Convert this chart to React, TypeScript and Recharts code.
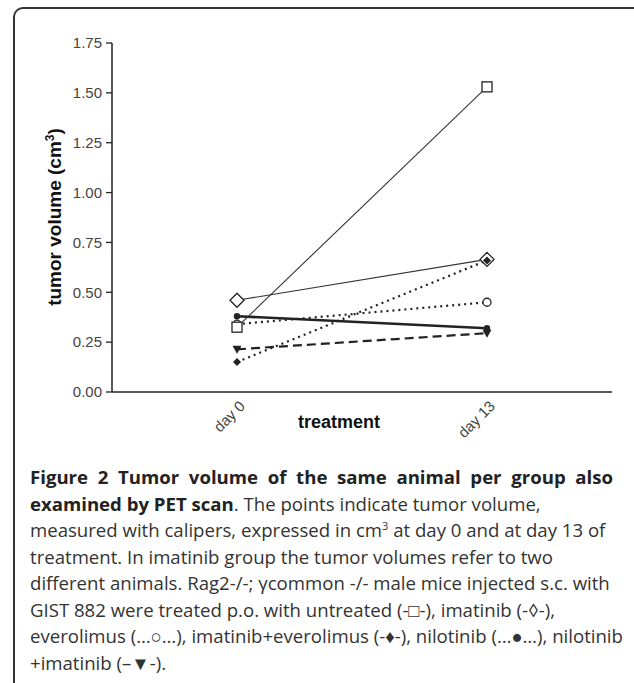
import React from "react";
import { LineChart, Line, XAxis, YAxis } from "recharts";

const days = ["day 0", "day 13"];
const untreated = [0.325, 1.53];
const imatinib = [0.46, 0.665];
const everolimus = [0.34, 0.45];
const imaEvero = [0.15, 0.66];
const nilotinib = [0.38, 0.32];
const niloIma = [0.214, 0.295];
const yTicks = [0, 0.25, 0.5, 0.75, 1, 1.25, 1.5, 1.75];

const data = days.map((day, i) => ({
  day,
  untreated: untreated[i],
  imatinib: imatinib[i],
  everolimus: everolimus[i],
  imaEvero: imaEvero[i],
  nilotinib: nilotinib[i],
  niloIma: niloIma[i],
}));

const INK = "#222";

type Shape = "square" | "diamond" | "circle" | "fdiamond" | "dot" | "tri";

function marker(shape: Shape) {
  return (p: any) => {
    const { cx, cy, key } = p;
    if (cx == null || cy == null) return <g key={key} />;
    if (shape === "square")
      return <rect key={key} x={cx - 5} y={cy - 5} width={10} height={10} fill="#fff" stroke={INK} strokeWidth={1.3} />;
    if (shape === "diamond")
      return (
        <polygon key={key} points={`${cx},${cy - 7} ${cx + 7},${cy} ${cx},${cy + 7} ${cx - 7},${cy}`}
          fill="#fff" stroke={INK} strokeWidth={1.3} />
      );
    if (shape === "circle")
      return <circle key={key} cx={cx} cy={cy} r={4} fill="#fff" stroke={INK} strokeWidth={1.3} />;
    if (shape === "fdiamond")
      return (
        <polygon key={key} points={`${cx},${cy - 4} ${cx + 4},${cy} ${cx},${cy + 4} ${cx - 4},${cy}`} fill={INK} />
      );
    if (shape === "dot") return <circle key={key} cx={cx} cy={cy} r={3.2} fill={INK} />;
    return <polygon key={key} points={`${cx - 4.5},${cy - 3.5} ${cx + 4.5},${cy - 3.5} ${cx},${cy + 4.5}`} fill={INK} />;
  };
}

function DayTick(props: any) {
  const { x, payload } = props;
  const ax = x + 9;
  const ay = 407;
  return (
    <text x={ax} y={ay} transform={`rotate(-45 ${ax} ${ay})`} textAnchor="end"
      fontFamily="Liberation Sans, Arial, sans-serif" fontSize={15} fill="#444">
      {payload.value}
    </text>
  );
}

export default function App() {
  return (
    <div style={{ position: "absolute", left: 0, top: 0, width: 634, height: 683, background: "#fff", overflow: "hidden" }}>
      <div
        style={{
          position: "absolute", left: 13, top: 7, width: 640, height: 700,
          borderLeft: "2px solid #333", borderTop: "2px solid #333",
          borderTopLeftRadius: 10, borderBottomLeftRadius: 10,
          boxSizing: "border-box",
        }}
      />
      <div style={{ position: "absolute", left: 0, top: 0 }}>
        <LineChart width={634} height={450} data={data} margin={{ top: 43, right: 22, left: 0, bottom: 18 }}>
          <XAxis dataKey="day" height={40} padding={{ left: 125, right: 125 }} tickLine={false}
            axisLine={{ stroke: INK, strokeWidth: 1.5 }} tick={<DayTick />} interval={0} />
          <YAxis width={112} domain={[0, 1.75]} ticks={yTicks} tickSize={6} tickMargin={4}
            tickFormatter={(v: number) => v.toFixed(2)}
            axisLine={{ stroke: INK, strokeWidth: 1.5 }} tickLine={{ stroke: INK, strokeWidth: 1.3 }}
            tick={{ fontSize: 15, fill: "#444", fontFamily: "Liberation Sans, Arial, sans-serif" }} />
          <Line dataKey="everolimus" stroke={INK} strokeWidth={2.2} strokeDasharray="2 4" dot={marker("circle")}
            isAnimationActive={false} />
          <Line dataKey="nilotinib" stroke={INK} strokeWidth={2.6} dot={marker("dot")} isAnimationActive={false} />
          <Line dataKey="niloIma" stroke={INK} strokeWidth={2.2} strokeDasharray="9 5" dot={marker("tri")}
            isAnimationActive={false} />
          <Line dataKey="imatinib" stroke="#333" strokeWidth={1.1} dot={marker("diamond")} isAnimationActive={false} />
          <Line dataKey="imaEvero" stroke={INK} strokeWidth={2.2} strokeDasharray="2 4" dot={marker("fdiamond")}
            isAnimationActive={false} />
          <Line dataKey="untreated" stroke="#333" strokeWidth={1.1} dot={marker("square")} isAnimationActive={false} />
          <text x={61} y={217} transform="rotate(-90 61 217)" textAnchor="middle"
            fontFamily="Liberation Sans, Arial, sans-serif" fontWeight="bold" fontSize={19} fill="#111">
            tumor volume (cm<tspan fontSize={12} dy={-7}>3</tspan><tspan dy={7}>)</tspan>
          </text>
          <text x={339} y={428} textAnchor="middle" fontFamily="Liberation Sans, Arial, sans-serif"
            fontWeight="bold" fontSize={18} fill="#111">
            treatment
          </text>
        </LineChart>
      </div>
      <div
        style={{
          position: "absolute", left: 30, top: 464, width: 583,
          fontFamily: "'Open Sans', sans-serif", fontSize: 18.6, lineHeight: "26.5px", color: "#333",
          whiteSpace: "nowrap",
        }}
      >
        <div style={{ fontWeight: 700, color: "#222", textAlign: "justify", textAlignLast: "justify" }}>
          Figure 2 Tumor volume of the same animal per group also
        </div>
        <div>
          <b style={{ color: "#222" }}>examined by PET scan</b>. The points indicate tumor volume,
        </div>
        <div>
          measured with calipers, expressed in cm<sup style={{ fontSize: 11, lineHeight: 0 }}>3</sup> at day 0 and at day 13 of
        </div>
        <div>treatment. In imatinib group the tumor volumes refer to two</div>
        <div>different animals. Rag2-/-; γcommon -/- male mice injected s.c. with</div>
        <div>GIST 882 were treated p.o. with untreated (-□-), imatinib (-◊-),</div>
        <div>everolimus (…○…), imatinib+everolimus (-♦-), nilotinib (…●…), nilotinib</div>
        <div>+imatinib (–▼-).</div>
      </div>
    </div>
  );
}
